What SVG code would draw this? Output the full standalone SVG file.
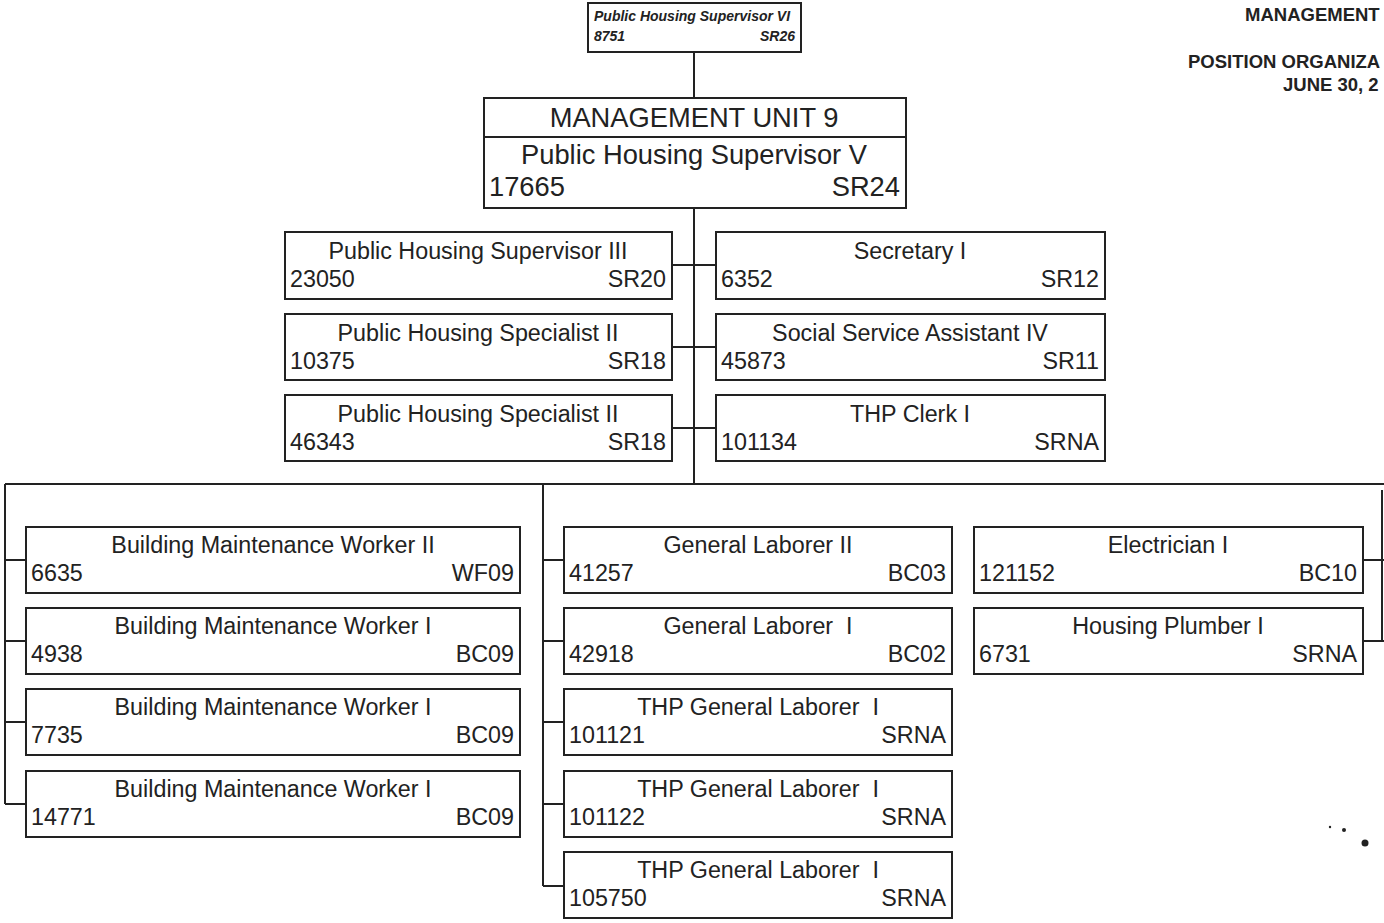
<svg xmlns="http://www.w3.org/2000/svg" width="1384" height="923" viewBox="0 0 1384 923">
<style>
.box{fill:#fff;stroke:#222;stroke-width:2}
.con{fill:none;stroke:#222;stroke-width:2}
.t{font-family:"Liberation Sans",Arial,sans-serif;font-size:23.3px;fill:#222}
.m{text-anchor:middle}
.e{text-anchor:end}
.big{font-family:"Liberation Sans",Arial,sans-serif;font-size:27.3px;fill:#222}
.sm{font-family:"Liberation Sans",Arial,sans-serif;font-size:14px;font-style:italic;font-weight:bold;fill:#222}
.hd{font-family:"Liberation Sans",Arial,sans-serif;font-size:18.5px;font-weight:bold;fill:#222}
</style>
<rect width="1384" height="923" fill="#fff"/>
<g id="heading">
<text class="hd" x="1245" y="21">MANAGEMENT</text>
<text class="hd" x="1188" y="68">POSITION ORGANIZA</text>
<text class="hd" x="1283" y="91">JUNE 30, 2</text>
</g>
<g id="connectors">
<path class="con" d="M694 52V98M694 208V484M672 265H716M672 347H716M672 428H716"/>
<path class="con" d="M5 484H1384M5 484V804M5 560H26M5 641H26M5 722H26M5 804H26"/>
<path class="con" d="M543 484V886M543 560H564M543 641H564M543 722H564M543 804H564M543 886H564"/>
<path class="con" d="M1382 490V641M1363 560H1384M1363 641H1384"/>
</g>
<g id="n-phs6">
<rect class="box" x="588" y="3" width="213" height="49"/>
<text class="sm" x="594" y="21">Public Housing Supervisor VI</text>
<text class="sm" x="594" y="41">8751</text>
<text class="sm e" x="795" y="41">SR26</text>
</g>
<g id="n-mu9">
<rect class="box" x="484" y="98" width="422" height="110"/>
<line class="con" x1="484" y1="137" x2="906" y2="137"/>
<text class="big m" x="694" y="127">MANAGEMENT UNIT 9</text>
<text class="big m" x="694" y="164">Public Housing Supervisor V</text>
<text class="big" x="489" y="196">17665</text>
<text class="big e" x="900" y="196">SR24</text>
</g>
<g id="n-23050">
<rect class="box" x="285" y="232" width="387" height="67"/>
<text class="t m" x="478" y="259">Public Housing Supervisor III</text>
<text class="t" x="290" y="287">23050</text>
<text class="t e" x="666" y="287">SR20</text>
</g>
<g id="n-10375">
<rect class="box" x="285" y="314" width="387" height="66"/>
<text class="t m" x="478" y="341">Public Housing Specialist II</text>
<text class="t" x="290" y="369">10375</text>
<text class="t e" x="666" y="369">SR18</text>
</g>
<g id="n-46343">
<rect class="box" x="285" y="395" width="387" height="66"/>
<text class="t m" x="478" y="422">Public Housing Specialist II</text>
<text class="t" x="290" y="450">46343</text>
<text class="t e" x="666" y="450">SR18</text>
</g>
<g id="n-6352">
<rect class="box" x="716" y="232" width="389" height="67"/>
<text class="t m" x="910" y="259">Secretary I</text>
<text class="t" x="721" y="287">6352</text>
<text class="t e" x="1099" y="287">SR12</text>
</g>
<g id="n-45873">
<rect class="box" x="716" y="314" width="389" height="66"/>
<text class="t m" x="910" y="341">Social Service Assistant IV</text>
<text class="t" x="721" y="369">45873</text>
<text class="t e" x="1099" y="369">SR11</text>
</g>
<g id="n-101134">
<rect class="box" x="716" y="395" width="389" height="66"/>
<text class="t m" x="910" y="422">THP Clerk I</text>
<text class="t" x="721" y="450">101134</text>
<text class="t e" x="1099" y="450">SRNA</text>
</g>
<g id="n-6635">
<rect class="box" x="26" y="527" width="494" height="66"/>
<text class="t m" x="273" y="553">Building Maintenance Worker II</text>
<text class="t" x="31" y="581">6635</text>
<text class="t e" x="514" y="581">WF09</text>
</g>
<g id="n-4938">
<rect class="box" x="26" y="608" width="494" height="66"/>
<text class="t m" x="273" y="634">Building Maintenance Worker I</text>
<text class="t" x="31" y="662">4938</text>
<text class="t e" x="514" y="662">BC09</text>
</g>
<g id="n-7735">
<rect class="box" x="26" y="689" width="494" height="66"/>
<text class="t m" x="273" y="715">Building Maintenance Worker I</text>
<text class="t" x="31" y="743">7735</text>
<text class="t e" x="514" y="743">BC09</text>
</g>
<g id="n-14771">
<rect class="box" x="26" y="771" width="494" height="66"/>
<text class="t m" x="273" y="797">Building Maintenance Worker I</text>
<text class="t" x="31" y="825">14771</text>
<text class="t e" x="514" y="825">BC09</text>
</g>
<g id="n-41257">
<rect class="box" x="564" y="527" width="388" height="66"/>
<text class="t m" x="758" y="553">General Laborer II</text>
<text class="t" x="569" y="581">41257</text>
<text class="t e" x="946" y="581">BC03</text>
</g>
<g id="n-42918">
<rect class="box" x="564" y="608" width="388" height="66"/>
<text class="t m" x="758" y="634" xml:space="preserve">General Laborer  I</text>
<text class="t" x="569" y="662">42918</text>
<text class="t e" x="946" y="662">BC02</text>
</g>
<g id="n-101121">
<rect class="box" x="564" y="689" width="388" height="66"/>
<text class="t m" x="758" y="715" xml:space="preserve">THP General Laborer  I</text>
<text class="t" x="569" y="743">101121</text>
<text class="t e" x="946" y="743">SRNA</text>
</g>
<g id="n-101122">
<rect class="box" x="564" y="771" width="388" height="66"/>
<text class="t m" x="758" y="797" xml:space="preserve">THP General Laborer  I</text>
<text class="t" x="569" y="825">101122</text>
<text class="t e" x="946" y="825">SRNA</text>
</g>
<g id="n-105750">
<rect class="box" x="564" y="852" width="388" height="66"/>
<text class="t m" x="758" y="878" xml:space="preserve">THP General Laborer  I</text>
<text class="t" x="569" y="906">105750</text>
<text class="t e" x="946" y="906">SRNA</text>
</g>
<g id="n-121152">
<rect class="box" x="974" y="527" width="389" height="66"/>
<text class="t m" x="1168" y="553">Electrician I</text>
<text class="t" x="979" y="581">121152</text>
<text class="t e" x="1357" y="581">BC10</text>
</g>
<g id="n-6731">
<rect class="box" x="974" y="608" width="389" height="66"/>
<text class="t m" x="1168" y="634">Housing Plumber I</text>
<text class="t" x="979" y="662">6731</text>
<text class="t e" x="1357" y="662">SRNA</text>
</g>
<g id="specks" fill="#222">
<circle cx="1330" cy="827" r="1.2"/>
<circle cx="1344" cy="830" r="2"/>
<circle cx="1365" cy="843" r="3.5"/>
</g>
</svg>
